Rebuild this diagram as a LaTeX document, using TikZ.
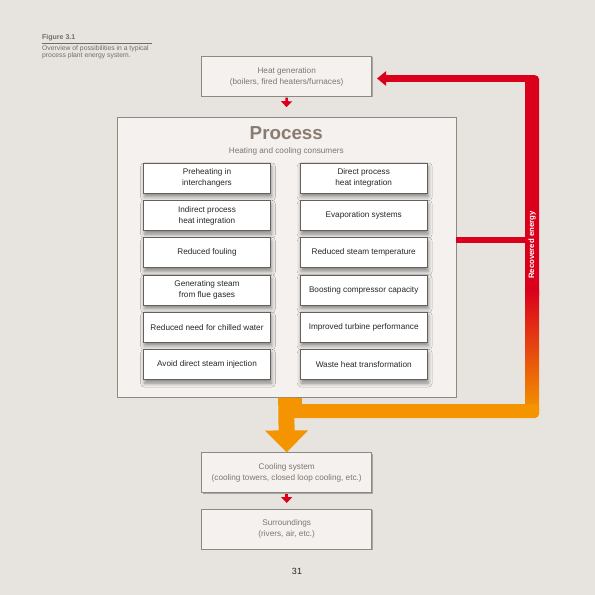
\documentclass[tikz,border=0pt]{standalone}
\usepackage{fontspec}
\setmainfont{Liberation Sans}
\usepackage{tikz}
\usetikzlibrary{arrows.meta, shadows, shadows.blur}
\usepackage{xcolor}

\definecolor{pagebg}{RGB}{231,227,223}
\definecolor{boxfill}{RGB}{244,241,238}
\definecolor{boxline}{RGB}{142,136,131}
\definecolor{itemline}{RGB}{100,96,94}
\definecolor{graytext}{RGB}{128,118,112}
\definecolor{titletext}{RGB}{138,124,114}
\definecolor{captiontext}{RGB}{115,109,105}
\definecolor{recred}{RGB}{218,0,28}
\definecolor{recorange}{RGB}{243,148,0}

\tikzset{
  outerbox/.style={draw=boxline, fill=boxfill, line width=0.6pt,
    drop shadow={shadow xshift=0.9pt, shadow yshift=-0.9pt, fill=black!45, opacity=0.7}},
  itembox/.style={draw=itemline, fill=white, line width=0.7pt,
    minimum width=127pt, minimum height=30pt, align=center,
    font=\fontsize{8.2}{11}\selectfont, text=black!85,
    blur shadow={shadow xshift=1pt, shadow yshift=-3.5pt, shadow blur radius=4pt, shadow opacity=45}},
  infotext/.style={align=center, font=\fontsize{8.2}{11}\selectfont, text=graytext},
  smallarrow/.style={draw=recred, line width=2.6pt, -{Triangle[width=11pt,length=6pt]}},
}

\begin{document}
\begin{tikzpicture}[x=1pt,y=1pt,yscale=-1,xscale=1]
%Page background
\path[use as bounding box, fill=pagebg] (0,0) rectangle (595,595);

% Caption
\node[anchor=west, inner sep=0pt, font=\fontsize{7}{8}\selectfont\bfseries, text=captiontext] (figno) at (42,37.5) {Figure 3.1};
\draw[captiontext, line width=0.5pt] (42,43) -- (152,43);
\node[anchor=north west, align=left, inner sep=0pt, font=\fontsize{6.8}{7}\selectfont, text=captiontext] (figcap) at (42,45.5) {Overview of possibilities in a typical\\process plant energy system.};

%Shape: Rectangle [heat generation]
\node[outerbox, infotext, minimum width=170pt, minimum height=40pt] (heat) at (286.7,76.5) {Heat generation\\(boilers, fired heaters/furnaces)};
%Shape: Rectangle [process]
\node[outerbox, minimum width=339pt, minimum height=280pt] (process) at (286.3,257.3) {};
% Text Node
\node[font=\fontsize{18.8}{20}\selectfont\bfseries, text=titletext] (proctitle) at (286.3,133) {Process};
% Text Node
\node[infotext] (procsub) at (286.3,151) {Heating and cooling consumers};

%Shape: Rectangle [left column]
\node[itembox] (preheat) at (207,178.3) {Preheating in\\interchangers};
\node[itembox] (indirect) at (207,215.6) {Indirect process\\heat integration};
\node[itembox] (fouling) at (207,252.8) {Reduced fouling};
\node[itembox] (fluegas) at (207,290.1) {Generating steam\\from flue gases};
\node[itembox] (chilled) at (207,327.3) {Reduced need for chilled water};
\node[itembox] (injection) at (207,364.6) {Avoid direct steam injection};
%Shape: Rectangle [right column]
\node[itembox] (direct) at (363.7,178.3) {Direct process\\heat integration};
\node[itembox] (evap) at (363.7,215.6) {Evaporation systems};
\node[itembox] (steamtemp) at (363.7,252.8) {Reduced steam temperature};
\node[itembox] (compressor) at (363.7,290.1) {Boosting compressor capacity};
\node[itembox] (turbine) at (363.7,327.3) {Improved turbine performance};
\node[itembox] (wasteheat) at (363.7,364.6) {Waste heat transformation};

%Shape: Rectangle [cooling and surroundings]
\node[outerbox, infotext, minimum width=170pt, minimum height=40pt] (cooling) at (286.7,472.7) {Cooling system\\(cooling towers, closed loop cooling, etc.)};
\node[outerbox, infotext, minimum width=170pt, minimum height=40pt] (surround) at (286.7,529) {Surroundings\\(rivers, air, etc.)};

%Straight Lines [small red arrows]
\draw[smallarrow, shorten <=0.8pt, shorten >=9.8pt] (heat.south) -- (process.north);
\draw[smallarrow, shorten <=0.8pt, shorten >=5.7pt] (cooling.south) -- (surround.north);

% Recovered energy loop
\coordinate (looptop) at (532,78.5);
\coordinate (branch) at (526,240);
\draw[recred, line width=6pt] (process.east |- branch) -- (branch);
\draw[recred, line width=6.5pt, -{Triangle[width=14pt,length=9pt]}, shorten >=5pt] (looptop) -- (heat.east |- looptop);
\fill[recred, rounded corners=4pt] (525,75.2) rectangle (539,300);
\shade[top color=recred, bottom color=recorange] (525,290) rectangle (539,411);
\fill[recorange, rounded corners=4pt] (290,404) rectangle (539,418);
\fill[recorange] (278,397.6) rectangle (302,405);
\draw[recorange, line width=16pt, -{Triangle[width=42pt,length=22pt]}] (process.south) -- (cooling.north);
% Text Node
\node[rotate=90, font=\fontsize{7.8}{9}\selectfont\bfseries, text=white, inner sep=0pt] (reclabel) at (532,245) {Recovered energy};

% Text Node
\node[font=\fontsize{9}{10}\selectfont, text=black!85] (pagenum) at (297,571) {31};

\end{tikzpicture}
\end{document}
